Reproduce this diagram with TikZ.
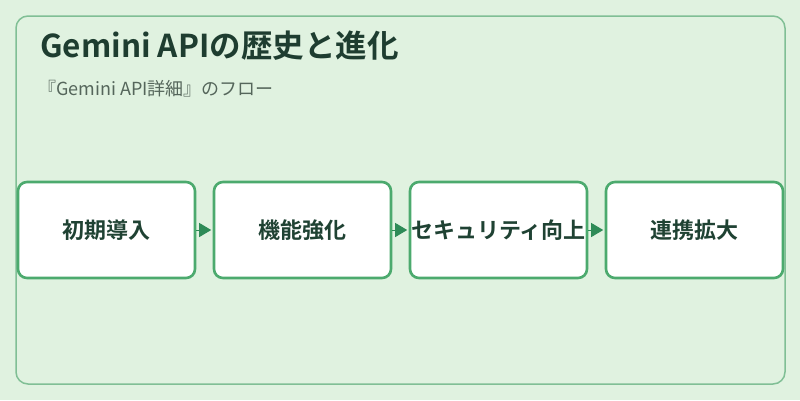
\documentclass[tikz,border=0pt]{standalone}
\usepackage{fontspec}
\setmainfont{Noto Sans CJK JP}[BoldFont={Noto Sans CJK JP Bold}]
\usetikzlibrary{arrows.meta}
\definecolor{bgc}{HTML}{E0F2E0}
\definecolor{framec}{HTML}{80BF95}
\definecolor{boxc}{HTML}{4CAA6E}
\definecolor{arrc}{HTML}{2E8B57}
\definecolor{titlec}{HTML}{1E3D30}
\definecolor{subc}{HTML}{55665B}
\definecolor{boxtxt}{HTML}{1F4233}
\begin{document}
\begin{tikzpicture}[x=1pt,y=-1pt,
  stepbox/.style={draw=boxc,line width=2.6pt,fill=white,rounded corners=9pt,
    minimum width=177pt,minimum height=96pt,inner sep=0pt,
    font=\fontsize{22}{26}\selectfont\bfseries,text=boxtxt},
  flow/.style={draw=arrc,line width=1pt,-{Triangle[length=12pt,width=14pt]},fill=arrc,arrc,shorten >=1.5pt}
]
\fill[bgc] (0,0) rectangle (800,400);
\useasboundingbox (0,0) rectangle (800,400);
\draw[framec,line width=1.5pt,rounded corners=12pt] (16,16) rectangle (785,384);
\node[anchor=base west,inner sep=0pt,text=titlec,font=\fontsize{31.5}{36}\selectfont\bfseries] (title) at (40,57) {Gemini APIの歴史と進化};
\node[anchor=base west,inner sep=0pt,text=subc,font=\fontsize{18}{22}\selectfont] (sub) at (38,95) {『Gemini API詳細』のフロー};
\node[stepbox] (s1) at (106.5,230) {初期導入};
\node[stepbox] (s2) at (302.5,230) {機能強化};
\node[stepbox] (s3) at (498.5,230) {セキュリティ向上};
\node[stepbox] (s4) at (694.5,230) {連携拡大};
\draw[flow] (s1) -- (s2);
\draw[flow] (s2) -- (s3);
\draw[flow] (s3) -- (s4);
\end{tikzpicture}
\end{document}
